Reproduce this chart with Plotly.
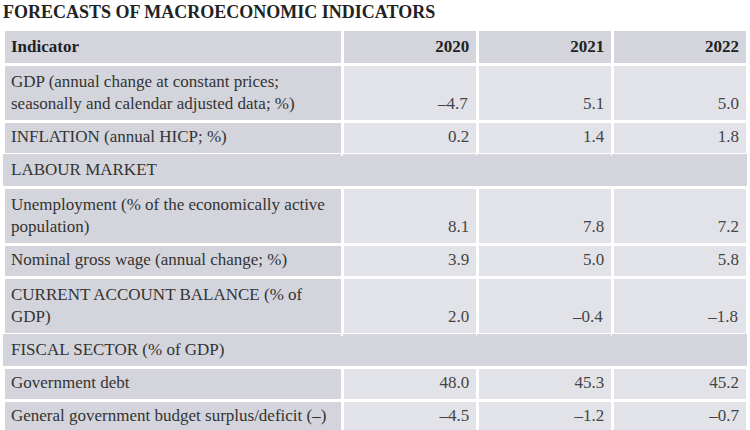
import plotly.graph_objects as go

title = "FORECASTS OF MACROECONOMIC INDICATORS"
header_first = "Indicator"
years = ["2020", "2021", "2022"]
indicators = [
    "GDP (annual change at constant prices;<br>seasonally and calendar adjusted data; %)",
    "INFLATION (annual HICP; %)",
    "LABOUR MARKET",
    "Unemployment (% of the economically active<br>population)",
    "Nominal gross wage (annual change; %)",
    "CURRENT ACCOUNT BALANCE (% of<br>GDP)",
    "FISCAL SECTOR (% of GDP)",
    "Government debt",
    "General government budget surplus/deficit (–)",
]
v2020 = [-4.7, 0.2, None, 8.1, 3.9, 2.0, None, 48.0, -4.5]
v2021 = [5.1, 1.4, None, 7.8, 5.0, -0.4, None, 45.3, -1.2]
v2022 = [5.0, 1.8, None, 7.2, 5.8, -1.8, None, 45.2, -0.7]

DARK = "#d4d5dc"
LIGHT = "#e2e3e8"
FONT = "Liberation Serif, Times New Roman, serif"


def fmt(v, label):
    if v is None:
        return ""
    s = ("–" if v < 0 else "") + f"{abs(v):.1f}"
    if "<br>" in label:
        s = "\u00a0<br>" + s
    return s


series = [v2020, v2021, v2022]
section = [v is None for v in v2020]

cols = [indicators] + [[fmt(v, lab) for v, lab in zip(s, indicators)] for s in series]
fills = [[DARK] * len(indicators)] + [[DARK if sec else LIGHT for sec in section] for _ in series]
widths = [[0 if sec else 3 for sec in section] for _ in range(4)]

table = dict(
    type="table",
    columnwidth=[340, 135, 135, 135],
    header=dict(
        values=[f"<b>{header_first}</b>"] + [f"<b>{y}</b>" for y in years],
        align=["left", "right", "right", "right"],
        fill=dict(color=DARK),
        line=dict(color="white", width=3),
        font=dict(family=FONT, size=17, color="#222222"),
        height=32,
    ),
    cells=dict(
        values=cols,
        align=["left", "right", "right", "right"],
        fill=dict(color=fills),
        line=dict(color="white", width=widths),
        font=dict(family=FONT, size=17, color=["#333333", "#444444", "#444444", "#444444"]),
        height=33,
    ),
)

layout = dict(
    width=750,
    height=430,
    margin=dict(l=3, r=3, t=29, b=0),
    paper_bgcolor="white",
    title=dict(
        text=f"<b>{title}</b>",
        x=0.004,
        xanchor="left",
        xref="container",
        y=1 - 12 / 430,
        yanchor="middle",
        yref="container",
        font=dict(family=FONT, size=18, color="#222222"),
    ),
)

fig = go.Figure(data=[table], layout=layout, _validate=False)
fig.write_html(
    "out.html",
    config={"displayModeBar": False},
    post_script="document.body.style.margin='0px';",
)
